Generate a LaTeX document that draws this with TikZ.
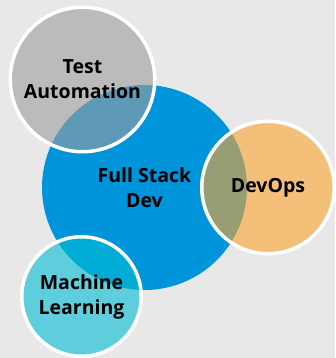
\documentclass[tikz,border=0pt]{standalone}
\usepackage{fontspec}
\setmainfont{Open Sans}
\usetikzlibrary{positioning}
\definecolor{bgGray}{RGB}{232,232,232}
\definecolor{fsBlue}{RGB}{0,148,218}
\definecolor{taGray}{RGB}{158,158,158}
\definecolor{doOrange}{RGB}{253,165,48}
\definecolor{mlCyan}{RGB}{2,190,212}
\tikzset{
  bubble/.style={circle, draw=white, line width=3.5pt, fill opacity=0.6, text opacity=1,
    align=center, inner sep=0pt, text=black, font=\bfseries\fontsize{19.5}{25}\selectfont},
  core/.style={bubble, draw=none, fill=fsBlue, fill opacity=1}
}

\begin{document}
\begin{tikzpicture}[x=1pt, y=1pt]
    \fill[bgGray] (0,0) rectangle (335,358);
    \useasboundingbox (0,0) rectangle (335,358);
    \coordinate (c0) at (144.5,170.5);

    \node[core, minimum size=205pt] (fsd) at (c0) {Full Stack\\Dev};
    \node[bubble, fill=taGray,   minimum size=144.5pt, xshift=-62pt, yshift=108pt]  (ta) at (c0) {Test\\Automation};
    \node[bubble, fill=doOrange, minimum size=132.5pt, xshift=123.5pt]              (dev) at (c0) {DevOps};
    \node[bubble, fill=mlCyan,   minimum size=119.5pt, xshift=-63pt, yshift=-109pt] (ml) at (c0) {Machine\\Learning};
\end{tikzpicture}
\end{document}
